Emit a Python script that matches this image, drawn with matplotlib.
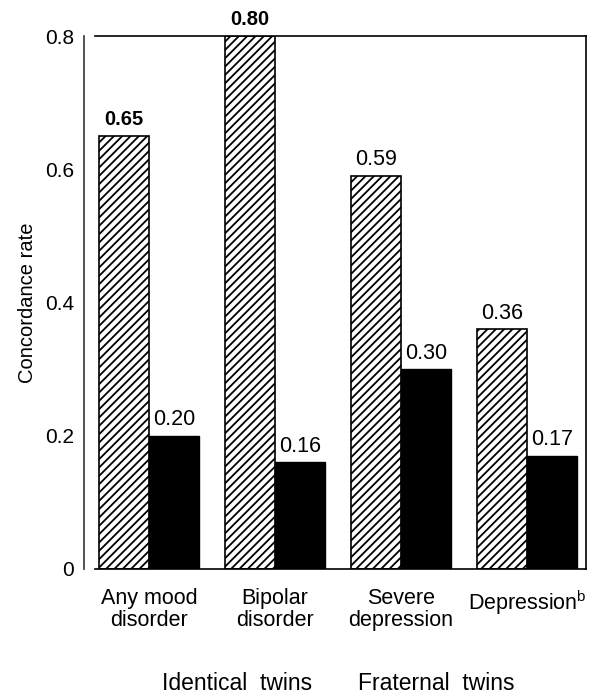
import matplotlib
matplotlib.use("Agg")
import matplotlib.pyplot as plt
import numpy as np

categories = ["Any mood\ndisorder", "Bipolar\ndisorder", "Severe\ndepression", "Depression$^{\\mathrm{b}}$"]
identical = [0.65, 0.80, 0.59, 0.36]
fraternal = [0.20, 0.16, 0.30, 0.17]
identical_labels = ["0.65", "0.80", "0.59", "0.36"]
fraternal_labels = ["0.20", "0.16", "0.30", "0.17"]
bold_flags = [True, True, False, False]
yticks = [0, 0.2, 0.4, 0.6, 0.8]
ytick_labels = ["0", "0.2", "0.4", "0.6", "0.8"]
legend_labels = ["Identical  twins", "Fraternal  twins"]

plt.rcParams['font.family'] = ['Liberation Sans', 'DejaVu Sans']
plt.rcParams['mathtext.fontset'] = 'custom'
plt.rcParams['mathtext.rm'] = 'Liberation Sans'
plt.rcParams['hatch.linewidth'] = 1.3
plt.rcParams['hatch.color'] = 'black'

W, H = 591, 695
fig = plt.figure(figsize=(W/100, H/100), dpi=100)
L, R, T, B = 95, 586, 36, 569
ax = fig.add_axes([L/W, 1-B/H, (R-L)/W, (B-T)/H])
ax.spines['left'].set_position(('outward', 8))

x = np.arange(len(categories))
bw = 0.4
ax.bar(x - bw/2, identical, bw, facecolor='white', edgecolor='black',
       hatch='////', linewidth=1.2)
ax.bar(x + bw/2, fraternal, bw, facecolor='black', edgecolor='black', linewidth=1.0)

for xi, v, lab, b in zip(x, identical, identical_labels, bold_flags):
    if b:
        ax.annotate(lab, (xi - bw/2, v), xytext=(0, 5), textcoords='offset points',
                    ha='center', va='bottom', fontsize=14.5, fontweight='bold',
                    clip_on=False)
    else:
        ax.annotate(lab, (xi - bw/2, v), xytext=(0, 4), textcoords='offset points',
                    ha='center', va='bottom', fontsize=15.5, clip_on=False)
for xi, v, lab in zip(x, fraternal, fraternal_labels):
    ax.annotate(lab, (xi + bw/2, v), xytext=(0, 4), textcoords='offset points',
                ha='center', va='bottom', fontsize=15.5, clip_on=False)

ax.set_xlim((L - 149) / 126, (R - 149) / 126)
ax.set_ylim(0, 0.8)
ax.set_yticks(yticks)
ax.set_yticklabels(ytick_labels)
ax.set_xticks(x)
ax.set_xticklabels(categories, linespacing=1.05)
ax.tick_params(axis='both', length=0, labelsize=15)
ax.tick_params(axis='y', pad=7)
ax.tick_params(axis='x', pad=14, labelsize=15.5)
ax.set_ylabel("Concordance rate", fontsize=14.5, labelpad=6)

for s in ax.spines.values():
    s.set_linewidth(1.2)
ax.spines['left'].set_color('#333333')

fig.text(237/W, 1-683/H, legend_labels[0], ha='center', va='center', fontsize=16.5)
fig.text(436/W, 1-683/H, legend_labels[1], ha='center', va='center', fontsize=16.5)

fig.savefig("out.png", dpi=100)
